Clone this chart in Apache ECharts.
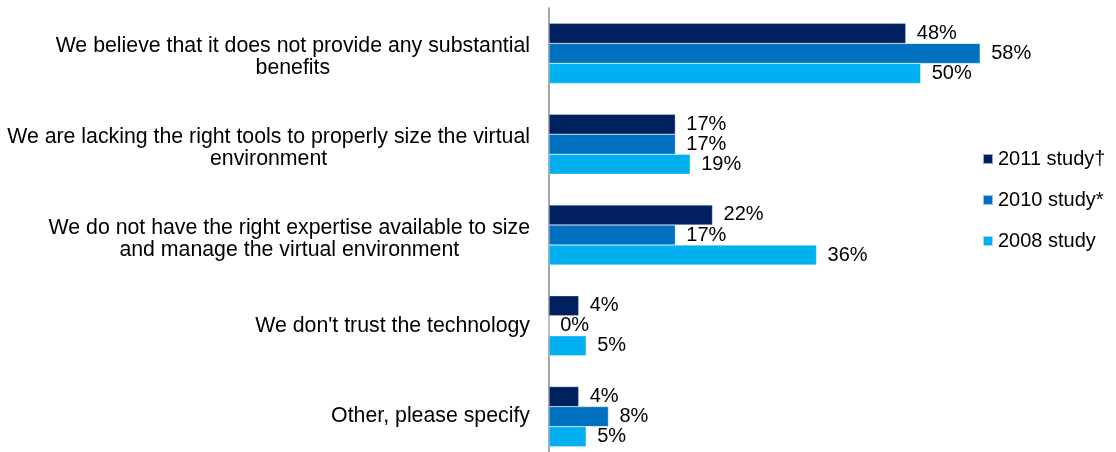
<!DOCTYPE html>
<html><head><meta charset="utf-8">
<script src="https://cdn.jsdelivr.net/npm/echarts@6/dist/echarts.min.js"></script>
<style>html,body{margin:0;padding:0;background:#fff;overflow:hidden}#c{width:1116px;height:470px}</style>
</head><body><div id="c"></div>
<script>
const categories = [
  "We believe that it does not provide any substantial\nbenefits",
  "We are lacking the right tools to properly size the virtual\nenvironment",
  "We do not have the right expertise available to size\nand manage the virtual environment",
  "We don't trust the technology",
  "Other, please specify"
];
const seriesNames = ["2011 study\u2020", "2010 study*", "2008 study"];
const s2011 = [48, 17, 22, 4, 4];
const s2010 = [58, 17, 17, 0, 8];
const s2008 = [50, 19, 36, 5, 5];
const colors = ["#002060", "#0070C0", "#00B0F0"];
const font = "Liberation Sans, Arial, sans-serif";

const chart = echarts.init(document.getElementById('c'));
const mk = (name, data, color) => ({
  name, type: 'bar', data, barGap: '0%', barCategoryGap: '33.8%',
  itemStyle: { color, borderColor: 'rgba(255,255,255,0.6)', borderWidth: 0.5 },
  label: { show: true, position: 'right', distance: 11, formatter: '{c}%',
           color: '#000', fontSize: 20, fontFamily: font },
  animation: false
});
const txt = { align: 'center', fontSize: 21.3, fontFamily: font, color: '#000', lineHeight: 22 };
chart.setOption({
  animation: false,
  grid: { left: 549, top: 8, width: 446, height: 454 },
  legend: {
    orient: 'vertical', left: 982, top: 149, padding: 0, itemWidth: 10, itemHeight: 10, itemGap: 21,
    icon: 'rect', textStyle: { fontSize: 20, fontFamily: font, color: '#000' },
    data: seriesNames
  },
  xAxis: { type: 'value', min: 0, max: 60, show: false, splitLine: { show: false } },
  yAxis: {
    type: 'category', data: categories, inverse: true,
    axisLine: { show: true, lineStyle: { color: '#888', width: 1.5 } },
    axisTick: { show: false },
    axisLabel: {
      align: 'right', margin: 19, lineHeight: 22,
      formatter: v => {
        const ls = v.split('\n');
        if (ls.length === 1) return '{c|' + ls[0] + '}';
        return ls.map(l => '{f|' + l + '}').join('\n');
      },
      rich: { c: txt, f: Object.assign({}, txt, { padding: [8, 0, 0, 0] }) }
    }
  },
  series: [mk(seriesNames[0], s2011, colors[0]), mk(seriesNames[1], s2010, colors[1]), mk(seriesNames[2], s2008, colors[2])]
});
</script></body></html>
